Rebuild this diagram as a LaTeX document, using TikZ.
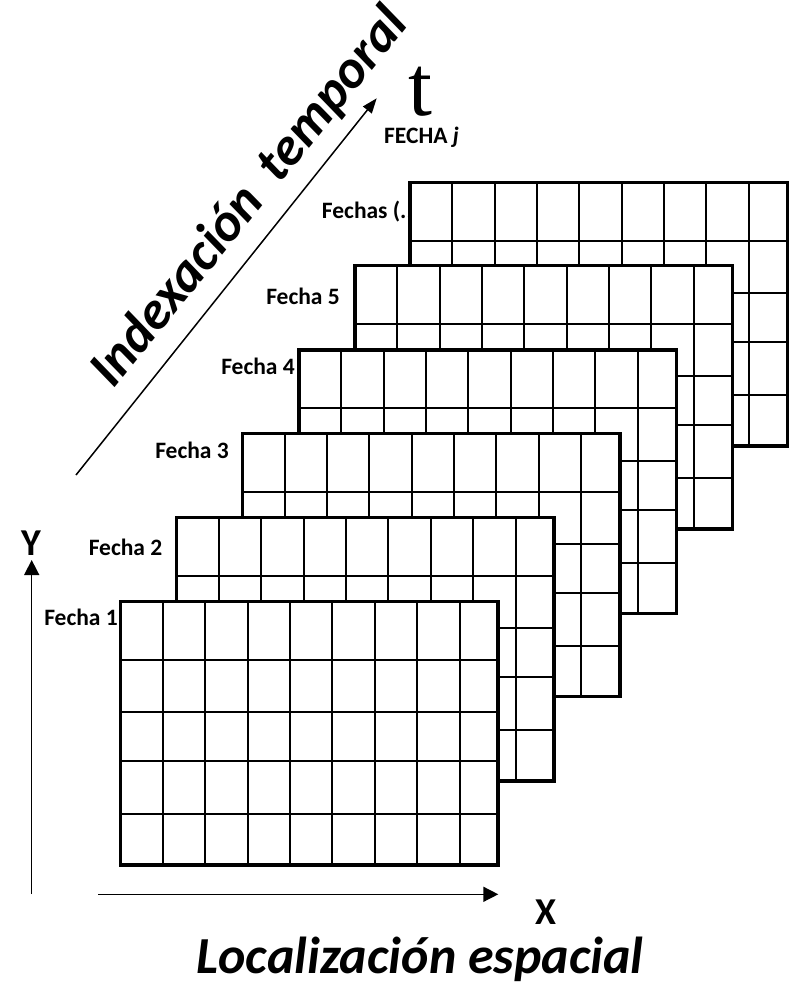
\documentclass[tikz,border=0pt]{standalone}
\usepackage{fontspec}
\setmainfont{Carlito}
\newfontfamily\tfont{Liberation Serif}
\usetikzlibrary{arrows.meta}
\begin{document}
\begin{tikzpicture}[x=1pt,y=-1pt,
  lbl/.style={font=\bfseries\fontsize{23.5}{23.5}\selectfont, inner sep=0pt},
  axlbl/.style={font=\bfseries\fontsize{38}{38}\selectfont, inner sep=0pt},
  big/.style={font=\bfseries\itshape\fontsize{52}{52}\selectfont, inner sep=0pt},
  outerbox/.style={line width=3.5pt},
  innerline/.style={line width=2pt},
  axis/.style={line width=1.5pt, -{Triangle[length=15pt,width=15pt]}},
  taxis/.style={line width=1.5pt, -{Triangle[length=15pt,width=11pt]}},
]
\path[use as bounding box] (0,0) rectangle (792,985);

% labels (drawn before grids)
\node[lbl, anchor=east] (f1) at (118,617) {Fecha 1};
\node[lbl, anchor=east] (f2) at (162.5,547) {Fecha 2};
\node[lbl, anchor=east] (f3) at (229,450) {Fecha 3};
\node[lbl, anchor=east] (f4) at (295,366) {Fecha 4};
\node[lbl, anchor=east] (f5) at (340,296) {Fecha 5};
\node[lbl, anchor=west] (fn) at (321.7,212) {Fechas (...)};
\node[lbl, anchor=west] (fj) at (384,137) {FECHA \textit{j}};
\node[font=\tfont\fontsize{86}{86}\selectfont, inner sep=0pt, anchor=base] (tl) at (420.5,115) {t};

% grids, back to front
\foreach \gx/\gy in {410/182.7, 355/265.7, 299/350, 242.3/433.3, 176.7/517.7, 120.7/601.7} {
  \begin{scope}[shift={(\gx,\gy)}]
    \fill[white] (0,0) rectangle (377.5,263.3);
    \foreach \k in {1,...,8} \draw[innerline] ({42.35*\k},0) -- ({42.35*\k},263.3);
    \foreach \r in {58.3,110.5,159.5,212.5} \draw[innerline] (0,\r) -- (377.5,\r);
    \draw[outerbox] (0,0) rectangle (377.5,263.3);
  \end{scope}
}

% axes
\coordinate (ys) at (31.7,894);
\coordinate (ye) at (31.7,560);
\coordinate (xs) at (98.3,894.3);
\coordinate (xe) at (498.3,894.3);
\coordinate (ts) at (76,475);
\coordinate (te) at (376.7,98.3);
\draw[axis] (ys) -- (ye);
\draw[axis] (xs) -- (xe);
\draw[taxis] (ts) -- (te);

\node[axlbl] (ylab) at (31,543) {Y};
\node[axlbl] (xlab) at (546,912.5) {X};
\node[big, anchor=base] (loc) at (420,973) {Localización espacial};
\node[big, font=\bfseries\itshape\fontsize{54}{54}\selectfont, rotate=51] (idx) at (250,198) {Indexación\hspace{0.2em} temporal};
\end{tikzpicture}
\end{document}
